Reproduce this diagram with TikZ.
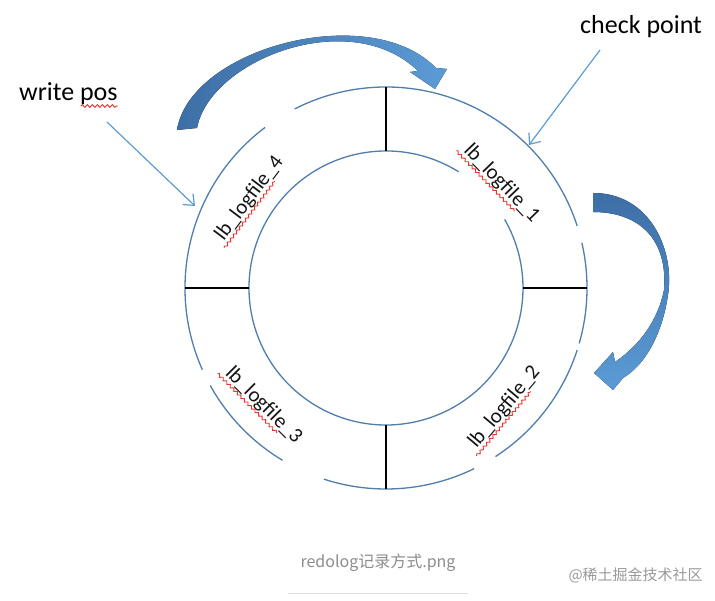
\documentclass[tikz,border=0pt]{standalone}
\usepackage{fontspec}
\setmainfont{Carlito}
\newfontfamily\cjk{Noto Sans CJK SC}
\usepackage{tikz}
\usetikzlibrary{arrows.meta}
\usetikzlibrary{calc}
\usetikzlibrary{decorations.pathmorphing}

\definecolor{ringblue}{HTML}{4F7DAD}
\definecolor{arrowblue}{HTML}{5B9BD5}
\definecolor{darkblue}{HTML}{3D6FA6}
\definecolor{squiggle}{HTML}{E8362E}

\begin{document}
\begin{tikzpicture}[x=1pt,y=1pt]
		\tikzset{ring/.style={draw=ringblue, line width=1.3pt}}
		\tikzset{spoke/.style={draw=black, line width=2.8pt}}
		\tikzset{pointer/.style={draw=arrowblue, line width=1.2pt,
				-{Straight Barb[length=9pt, width=15pt, line width=1.2pt]}}}
		\tikzset{tag/.style={font=\fontsize{26}{30}\selectfont, inner sep=0pt, anchor=base west}}
		\tikzset{logfile/.style={font=\fontsize{21}{24}\selectfont, text=black!92, inner sep=0pt, anchor=base}}
		\tikzset{wavy/.style={draw=squiggle, line width=0.9pt,
				decoration={snake, amplitude=1.3pt, segment length=5pt}, decorate}}
		\useasboundingbox (0,0) rectangle (715,601);
		\coordinate (c) at (386,313);
		%ring
		\foreach \a/\b in {18/117, 127/204, 209/239, 252/296, 303/342, 344/373}
			\draw[ring] ([shift={(\a:201)}]c) arc[start angle=\a, end angle=\b, radius=201pt];
		\draw[ring] ([shift={(58:137)}]c) arc[start angle=58, end angle=390, radius=137pt];
		\foreach \t in {0,90,180,270}
			\draw[spoke] ([shift={(\t:137)}]c) -- ([shift={(\t:201)}]c);
		%files
		\foreach \n/\x/\y/\r in {1/502/418/-46, 2/504/194/50, 3/264/196/-45, 4/249/403/53}{
			\begin{scope}[shift={(\x,\y)}, rotate=\r, transform shape]
				\node[logfile] (lf\n) at (0,-6) {lb\_logfile\_\n};
				\draw[wavy] (-55,-10.5) -- (29,-10.5);
			\end{scope}
		}
		%big arrows
		\fill[left color=darkblue, right color=arrowblue]
			(177,471) .. controls (190,553) and (370,601) .. (436,533)
			-- (447,532) -- (435,512) -- (410,529) -- (418,530)
			.. controls (350,596) and (210,541) .. (197,473) -- cycle;
		\fill[top color=darkblue, bottom color=arrowblue]
			(593,408) .. controls (650,408) and (675,351) .. (668,306)
			.. controls (662,266) and (645,236) .. (623,223)
			-- (613,211) -- (594,228) -- (613,249) -- (615,239)
			.. controls (640,256) and (658,281) .. (664,311)
			.. controls (668,361) and (640,389) .. (593,389) -- cycle;
		%pointers
		\node[tag] (wpos) at (19,500) {write pos};
		\node[tag] (cpt) at (580,567) {check point};
		\draw[wavy] ($(wpos.base east)+(-37,-5)$) -- ($(wpos.base east)+(0,-5)$);
		\coordinate (wpfrom) at (107,479);
		\coordinate (wpto) at (195,395);
		\coordinate (cpfrom) at (600,551);
		\coordinate (cpto) at (529,456);
		\path (wpfrom) edge[pointer] (wpto);
		\path (cpfrom) edge[pointer] (cpto);
		%caption
		\node[font=\cjk\fontsize{16}{19}\selectfont, text=black!45, anchor=base] (fname) at (378,33) {redolog记录方式.png};
		\draw[black!12, line width=1pt] (288,7) -- (468,7);
		\node[font=\cjk\fontsize{15}{18}\selectfont, text=black!40, anchor=base west] (mark) at (565,20) {@稀土掘金技术社区};
\end{tikzpicture}
\end{document}
